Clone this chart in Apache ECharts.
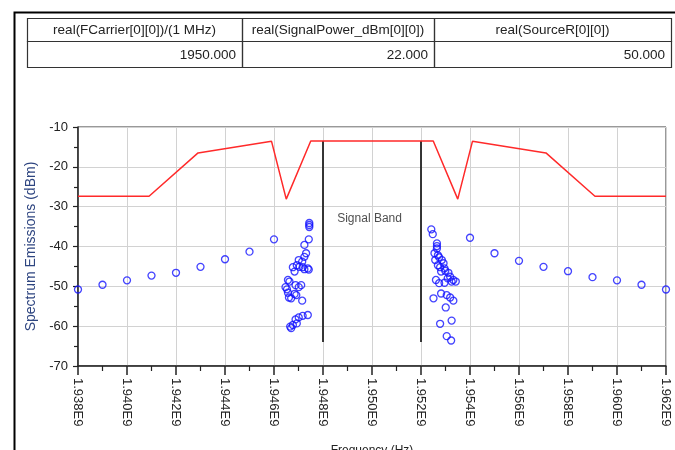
<!DOCTYPE html>
<html>
<head>
<meta charset="utf-8">
<script src="https://cdn.jsdelivr.net/npm/echarts@6/dist/echarts.min.js"></script>
<style>
html,body{margin:0;padding:0;background:#fff;}
#c{width:675px;height:450px;}
</style>
</head>
<body>
<div id="c"></div>
<script>
// ---- table ----
const tableHeaders = ['real(FCarrier[0][0])/(1 MHz)', 'real(SignalPower_dBm[0][0])', 'real(SourceR[0][0])'];
const tableValues = ['1950.000', '22.000', '50.000'];

// ---- axes ----
const xTicks = [1938, 1940, 1942, 1944, 1946, 1948, 1950, 1952, 1954, 1956, 1958, 1960, 1962];
const xTickLabels = ['1.938E9', '1.940E9', '1.942E9', '1.944E9', '1.946E9', '1.948E9', '1.950E9', '1.952E9', '1.954E9', '1.956E9', '1.958E9', '1.960E9', '1.962E9'];
const yTicks = [-70, -60, -50, -40, -30, -20, -10];
const yTickLabels = ['-70', '-60', '-50', '-40', '-30', '-20', '-10'];
const xTitle = 'Frequency (Hz)';
const yTitle = 'Spectrum Emissions (dBm)';

// ---- mask (red line) ----
const maskFreq = [1938, 1940.9, 1942.9, 1945.9, 1946.5, 1947.5, 1952.5, 1953.5, 1954.1, 1957.1, 1959.1, 1962];
const maskLevel = [-27.4, -27.4, -16.5, -13.6, -28.1, -13.5, -13.5, -28.1, -13.6, -16.5, -27.4, -27.4];

// ---- signal band markers ----
const bandEdges = [1948, 1952];
const bandTop = -13.5;
const bandBottom = -64;
const bandLabel = 'Signal Band';
const bandLabelPos = [1949.9, -33];

// ---- emissions (blue circles) ----
const wingLeftFreq = [1938, 1939, 1940, 1941, 1942, 1943, 1944, 1945, 1946];
const wingLeftLevel = [-50.8, -49.6, -48.5, -47.3, -46.6, -45.1, -43.2, -41.3, -38.2];
const wingRightFreq = [1954, 1955, 1956, 1957, 1958, 1959, 1960, 1961, 1962];
const wingRightLevel = [-37.8, -41.7, -43.6, -45.1, -46.2, -47.7, -48.5, -49.6, -50.8];
const clusterLeft = [
  [1947.44,-34.1],[1947.44,-34.6],[1947.44,-35.1],[1947.42,-38.2],[1947.24,-39.6],[1947.31,-41.7],
  [1947.24,-42.6],[1947.01,-43.4],[1947.15,-43.8],[1946.93,-44.7],[1947.04,-45.1],[1946.77,-45.2],
  [1947.17,-45.2],[1947.38,-45.5],[1947.42,-45.8],[1947.24,-45.7],[1946.84,-46.3],[1946.57,-48.4],
  [1946.63,-48.8],[1946.88,-49.7],[1947.11,-49.7],[1947.01,-50.2],[1946.47,-50.2],[1946.53,-50.75],
  [1946.57,-51.6],[1946.84,-51.9],[1946.91,-52.2],[1946.61,-52.8],[1946.70,-53.0],[1947.15,-53.6],
  [1947.38,-57.2],[1947.17,-57.4],[1947.01,-57.8],[1946.88,-58.3],[1946.93,-59.3],[1946.77,-59.7],
  [1946.66,-60.1],[1946.70,-60.5]
];
const clusterRight = [
  [1952.42,-35.7],[1952.48,-36.9],[1952.65,-39.2],[1952.65,-39.9],[1952.65,-40.5],[1952.55,-41.7],
  [1952.69,-42.2],[1952.74,-42.7],[1952.58,-43.4],[1952.85,-43.4],[1952.92,-44.2],[1952.69,-44.7],
  [1952.78,-45.2],[1952.96,-45.5],[1952.82,-46.3],[1952.99,-46.1],[1953.12,-46.6],[1953.19,-47.6],
  [1953.09,-48.0],[1953.32,-48.4],[1953.42,-48.8],[1953.25,-48.8],[1952.61,-48.4],[1952.74,-49.2],
  [1952.96,-49.1],[1952.82,-51.8],[1953.05,-52.2],[1953.19,-52.8],[1953.32,-53.6],[1952.51,-53.0],
  [1953.01,-55.3],[1953.25,-58.6],[1952.78,-59.4],[1953.05,-62.5],[1953.23,-63.6]
];

const FONT = "'Liberation Sans', Arial, sans-serif";
const zip = (a, b) => a.map((v, i) => [v, b[i]]);

const maskData = zip(maskFreq, maskLevel);
const emissionData = zip(wingLeftFreq, wingLeftLevel)
  .concat(clusterLeft, clusterRight, zip(wingRightFreq, wingRightLevel));

// table graphics
const colX = [27, 242, 434, 671];
const rowY = [18, 41, 67];
const graphics = [
  { type: 'rect', left: 12, top: 10, z: -10, silent: true,
    shape: { x: 0, y: 0, width: 700, height: 500 },
    style: { fill: 'none', stroke: '#000', lineWidth: 2 } }
];
for (let c = 0; c < 3; c++) {
  for (let r = 0; r < 2; r++) {
    graphics.push({
      type: 'rect', silent: true,
      shape: { x: colX[c] + 0.5, y: rowY[r] + 0.5, width: colX[c + 1] - colX[c], height: rowY[r + 1] - rowY[r] },
      style: { fill: 'none', stroke: '#333', lineWidth: 1.2 }
    });
  }
  graphics.push({
    type: 'text', silent: true,
    x: (colX[c] + colX[c + 1]) / 2, y: (rowY[0] + rowY[1]) / 2 + 1,
    style: { text: tableHeaders[c], fill: '#222', font: '13.5px ' + FONT, align: 'center', verticalAlign: 'middle' }
  });
  graphics.push({
    type: 'text', silent: true,
    x: colX[c + 1] - 6, y: (rowY[1] + rowY[2]) / 2 + 1,
    style: { text: tableValues[c], fill: '#222', font: '13.5px ' + FONT, align: 'right', verticalAlign: 'middle' }
  });
}

const chart = echarts.init(document.getElementById('c'), null, { renderer: 'canvas' });
const option = {
  animation: false,
  backgroundColor: '#fff',
  textStyle: { fontFamily: FONT },
  graphic: graphics,
  grid: { left: 78, right: 9, top: 127, bottom: 84, containLabel: false, outerBoundsMode: 'none',
          show: true, borderColor: '#333', borderWidth: 1, backgroundColor: 'transparent' },
  xAxis: {
    type: 'value', min: 1938, max: 1962, interval: 2,
    name: xTitle, nameLocation: 'middle', nameGap: 79,
    nameTextStyle: { fontSize: 12, color: '#222', fontFamily: FONT },
    axisLine: { show: true, onZero: false, lineStyle: { color: '#222', width: 1.5 } },
    axisTick: { show: true, length: 9, lineStyle: { color: '#222', width: 1.5 } },
    minorTick: { show: true, splitNumber: 2, length: 5, lineStyle: { color: '#222', width: 1.2 } },
    splitLine: { show: true, lineStyle: { color: '#d2d2d2', width: 1 } },
    axisLabel: {
      rotate: -90, margin: 12, fontSize: 13, color: '#222', fontFamily: FONT,
      formatter: v => { const i = xTicks.indexOf(Math.round(v)); return i >= 0 ? xTickLabels[i] : ''; }
    }
  },
  yAxis: {
    type: 'value', min: -70, max: -10, interval: 10,
    name: yTitle, nameLocation: 'middle', nameGap: 40, nameRotate: 90,
    nameTextStyle: { fontSize: 14, color: '#2e4580', fontFamily: FONT },
    axisLine: { show: true, onZero: false, lineStyle: { color: '#222', width: 1.5 } },
    axisTick: { show: true, length: 5, lineStyle: { color: '#222', width: 1.2 } },
    minorTick: { show: true, splitNumber: 2, length: 4, lineStyle: { color: '#222', width: 1.2 } },
    splitLine: { show: true, lineStyle: { color: '#d2d2d2', width: 1 } },
    axisLabel: {
      margin: 10, fontSize: 13, color: '#222', fontFamily: FONT,
      formatter: v => { const i = yTicks.indexOf(Math.round(v)); return i >= 0 ? yTickLabels[i] : ''; }
    }
  },
  series: [
    {
      type: 'line', data: maskData, showSymbol: false, symbol: 'none',
      lineStyle: { color: '#ff2a2a', width: 1.5 }, z: 3, silent: true
    },
    ...bandEdges.map(x => ({
      type: 'line', data: [[x, bandTop], [x, bandBottom]], showSymbol: false, symbol: 'none',
      lineStyle: { color: '#222', width: 1.8 }, z: 2, silent: true
    })),
    {
      type: 'scatter', data: [bandLabelPos], symbolSize: 1,
      itemStyle: { color: 'transparent' },
      label: { show: true, position: 'inside', formatter: bandLabel, fontSize: 12, color: '#222', fontFamily: FONT },
      silent: true, z: 4
    },
    {
      type: 'scatter', data: emissionData, symbol: 'circle', symbolSize: 7,
      itemStyle: { color: 'transparent', borderColor: '#1414ff', borderWidth: 1.3 },
      z: 5, silent: true
    }
  ]
};
chart.setOption(option);
</script>
</body>
</html>
